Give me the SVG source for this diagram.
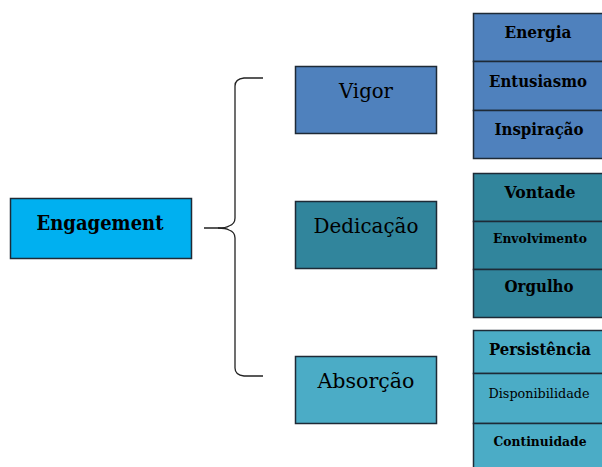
<svg xmlns="http://www.w3.org/2000/svg" width="602" height="467" viewBox="0 0 602 467">
<style>
.box{stroke:#1e2a36;stroke-width:1.5}
.t{font-family:"DejaVu Serif","Liberation Serif",serif;fill:#000;text-anchor:middle}
.big{font-size:20px}
.mid{font-size:16px;font-weight:bold}
.sm{font-size:12.5px}
.conn{fill:none;stroke:#222;stroke-width:1.3}
</style>
<rect width="602" height="467" fill="#fff"/>
<g id="connectors">
<path class="conn" d="M204 228 H218 Q226 228 229 226 Q235 224 235 218 V86 Q235 79 244 78 H263"/>
<path class="conn" d="M218 228 Q226 228 229 230 Q235 232 235 238 V368 Q235 375 244 376 H263"/>
</g>
<g id="engagement">
<rect class="box" x="10.5" y="198.5" width="181" height="60" fill="#00b0f0"/>
<text class="t big" x="100" y="230" font-weight="bold" textLength="127" lengthAdjust="spacingAndGlyphs">Engagement</text>
</g>
<g id="vigor">
<rect class="box" x="295.5" y="66.5" width="141" height="67" fill="#4f81bd"/>
<text class="t big" x="366" y="98" textLength="54" lengthAdjust="spacingAndGlyphs">Vigor</text>
</g>
<g id="dedicacao">
<rect class="box" x="295.5" y="201.5" width="141" height="67" fill="#31859c"/>
<text class="t big" x="366" y="233" textLength="105" lengthAdjust="spacingAndGlyphs">Dedicação</text>
</g>
<g id="absorcao">
<rect class="box" x="295.5" y="356.5" width="141" height="67" fill="#4bacc6"/>
<text class="t big" x="366" y="388" textLength="97" lengthAdjust="spacingAndGlyphs">Absorção</text>
</g>
<g id="vigor-items">
<rect class="box" x="473.5" y="13.5" width="140" height="48" fill="#4f81bd"/>
<rect class="box" x="473.5" y="61.5" width="140" height="49" fill="#4f81bd"/>
<rect class="box" x="473.5" y="110.5" width="140" height="48" fill="#4f81bd"/>
<text class="t mid" x="538" y="38" textLength="67" lengthAdjust="spacingAndGlyphs">Energia</text>
<text class="t mid" x="538" y="87" textLength="98" lengthAdjust="spacingAndGlyphs">Entusiasmo</text>
<text class="t mid" x="539" y="135" textLength="89" lengthAdjust="spacingAndGlyphs">Inspiração</text>
</g>
<g id="dedicacao-items">
<rect class="box" x="473.5" y="173.5" width="140" height="48" fill="#31859c"/>
<rect class="box" x="473.5" y="221.5" width="140" height="48" fill="#31859c"/>
<rect class="box" x="473.5" y="269.5" width="140" height="48" fill="#31859c"/>
<text class="t mid" x="540" y="198" textLength="71" lengthAdjust="spacingAndGlyphs">Vontade</text>
<text class="t sm" x="540" y="243" font-weight="bold" textLength="94" lengthAdjust="spacingAndGlyphs">Envolvimento</text>
<text class="t mid" x="539" y="292" textLength="69" lengthAdjust="spacingAndGlyphs">Orgulho</text>
</g>
<g id="absorcao-items">
<rect class="box" x="473.5" y="330.5" width="140" height="43" fill="#4bacc6"/>
<rect class="box" x="473.5" y="373.5" width="140" height="50" fill="#4bacc6"/>
<rect class="box" x="473.5" y="423.5" width="140" height="50" fill="#4bacc6"/>
<text class="t mid" x="540" y="355" textLength="102" lengthAdjust="spacingAndGlyphs">Persistência</text>
<text class="t sm" x="539" y="398" textLength="101" lengthAdjust="spacingAndGlyphs">Disponibilidade</text>
<text class="t sm" x="540" y="446" font-weight="bold" textLength="93" lengthAdjust="spacingAndGlyphs">Continuidade</text>
</g>
</svg>
